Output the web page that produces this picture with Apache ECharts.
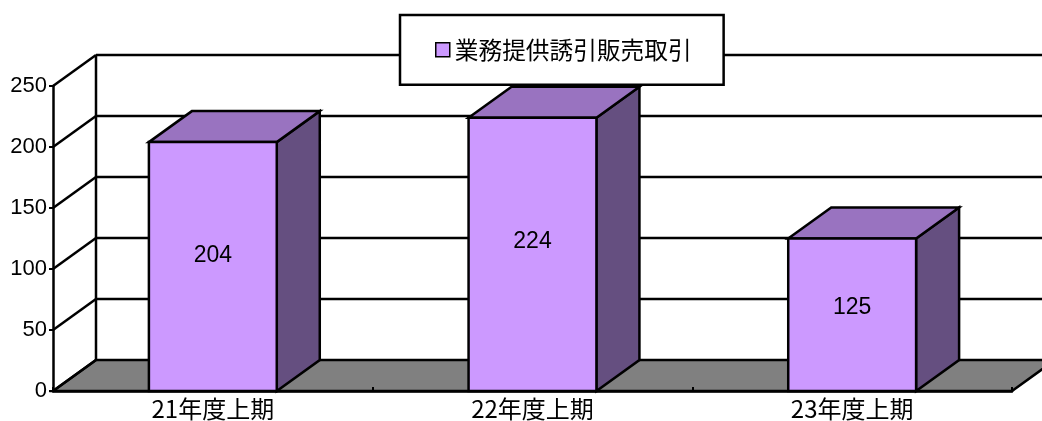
<!DOCTYPE html>
<html>
<head>
<meta charset="utf-8">
<script src="https://cdn.jsdelivr.net/npm/echarts@6/dist/echarts.min.js"></script>
<style>
  html, body { margin: 0; padding: 0; background: #fff; }
  #chart { width: 1042px; height: 421px; }
</style>
</head>
<body>
<div id="chart"></div>
<script>
// Chart data
const categories = ['21年度上期', '22年度上期', '23年度上期'];
const seriesName = '業務提供誘引販売取引';
const values = [204, 224, 125];
const yTicks = [0, 50, 100, 150, 200, 250];

// 3D look: depth offset of the back plane and face colours
const DEPTH_X = 43;
const DEPTH_Y = -31;
const FRONT = '#CC99FF';
const TOP = '#9973C0';
const SIDE = '#654F80';
const FLOOR = '#808080';
const LW = 2.5;
const LINE = { stroke: '#000', lineWidth: LW };

const chart = echarts.init(document.getElementById('chart'), null, { renderer: 'canvas' });

// Floor, back wall grid lines and left wall lines
function renderWalls(params, api) {
  const cs = params.coordSys;
  const x0 = cs.x, x1 = cs.x + cs.width;
  const yZero = api.coord([0, 0])[1];
  const children = [];
  // back wall horizontal lines
  yTicks.forEach(function (v) {
    if (v === 0) return;
    const y = api.coord([0, v])[1] + DEPTH_Y;
    children.push({ type: 'line', shape: { x1: x0 + DEPTH_X, y1: y, x2: x1 + DEPTH_X, y2: y }, style: LINE });
  });
  // back wall left edge
  children.push({
    type: 'line',
    shape: { x1: x0 + DEPTH_X, y1: yZero + DEPTH_Y, x2: x0 + DEPTH_X, y2: api.coord([0, yTicks[yTicks.length - 1]])[1] + DEPTH_Y },
    style: LINE
  });
  // floor
  children.push({
    type: 'polygon',
    shape: { points: [[x0, yZero], [x1, yZero], [x1 + DEPTH_X, yZero + DEPTH_Y], [x0 + DEPTH_X, yZero + DEPTH_Y]] },
    style: { fill: FLOOR, stroke: '#000', lineWidth: LW, lineJoin: 'miter' }
  });
  // left wall diagonals
  yTicks.forEach(function (v) {
    const y = api.coord([0, v])[1];
    children.push({ type: 'line', shape: { x1: x0, y1: y, x2: x0 + DEPTH_X, y2: y + DEPTH_Y }, style: LINE });
  });
  return { type: 'group', children: children };
}

// 3D box for each bar
function renderBar(params, api) {
  const idx = api.value(0);
  const val = api.value(1);
  const top = api.coord([idx, val]);
  const base = api.coord([idx, 0]);
  const w = api.size([1, 0])[0] * 0.4;
  const xl = top[0] - w / 2, xr = top[0] + w / 2;
  const yt = top[1], yb = base[1];
  const stroke = { stroke: '#000', lineWidth: LW, lineJoin: 'miter' };
  return {
    type: 'group',
    children: [
      {
        type: 'polygon',
        shape: { points: [[xr, yt], [xr + DEPTH_X, yt + DEPTH_Y], [xr + DEPTH_X, yb + DEPTH_Y], [xr, yb]] },
        style: Object.assign({ fill: SIDE }, stroke)
      },
      {
        type: 'polygon',
        shape: { points: [[xl, yt], [xr, yt], [xr + DEPTH_X, yt + DEPTH_Y], [xl + DEPTH_X, yt + DEPTH_Y]] },
        style: Object.assign({ fill: TOP }, stroke)
      },
      {
        type: 'rect',
        shape: { x: xl, y: yt, width: w, height: yb - yt },
        style: Object.assign({ fill: FRONT }, stroke)
      },
      {
        type: 'text',
        x: top[0],
        y: yt + (yb - yt) * 0.455,
        style: {
          text: String(val),
          fill: '#000',
          font: '23px "Liberation Sans", Arial, sans-serif',
          align: 'center',
          verticalAlign: 'middle'
        }
      }
    ]
  };
}

const option = {
  animation: false,
  backgroundColor: '#fff',
  grid: { left: 53, right: 30, top: 86, bottom: 29, containLabel: false },
  legend: {
    left: 400,
    top: 15,
    padding: [23, 32, 23, 35],
    backgroundColor: '#fff',
    borderColor: '#000',
    borderWidth: 2.5,
    borderRadius: 0,
    itemWidth: 14,
    itemHeight: 14,
    icon: 'rect',
    itemStyle: { borderColor: '#000', borderWidth: 1.5 },
    textStyle: { fontSize: 23.7, color: '#000', fontFamily: '"Noto Sans CJK JP", sans-serif' },
    data: [seriesName]
  },
  xAxis: {
    type: 'category',
    data: categories,
    z: 5,
    axisLine: { show: true, lineStyle: { color: '#000', width: LW } },
    axisTick: { show: true, inside: true, length: 4, lineStyle: { color: '#000', width: 2 } },
    axisLabel: { color: '#000', fontSize: 24, margin: 6, fontFamily: '"Noto Sans CJK JP", sans-serif' },
    splitLine: { show: false }
  },
  yAxis: {
    type: 'value',
    min: 0,
    max: 250,
    interval: 50,
    z: 5,
    axisLine: { show: true, lineStyle: { color: '#000', width: LW } },
    axisTick: { show: true, length: 4, lineStyle: { color: '#000', width: 2 } },
    axisLabel: { color: '#000', fontSize: 22, margin: 6, fontFamily: '"Liberation Sans", Arial, sans-serif' },
    splitLine: { show: false }
  },
  series: [
    {
      type: 'custom',
      name: 'walls',
      z: 1,
      silent: true,
      renderItem: renderWalls,
      data: [[0, 0]]
    },
    {
      type: 'custom',
      name: seriesName,
      z: 3,
      itemStyle: { color: FRONT },
      renderItem: renderBar,
      encode: { x: 0, y: 1 },
      data: values.map(function (v, i) { return [i, v]; })
    }
  ]
};

chart.setOption(option);
</script>
</body>
</html>
